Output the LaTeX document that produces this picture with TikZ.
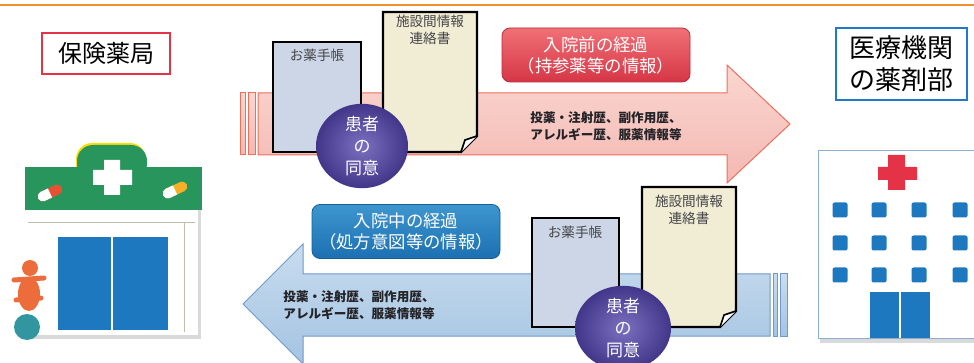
\documentclass[tikz,border=0pt]{standalone}
\usepackage{fontspec}
\setmainfont{Noto Sans CJK JP}
\usetikzlibrary{shapes.geometric,shadows}
\definecolor{rule}{RGB}{240,145,45}
\definecolor{rose}{RGB}{226,52,68}
\definecolor{sky}{RGB}{32,122,200}
\definecolor{pinkfill}{RGB}{244,184,178}
\definecolor{pinklight}{RGB}{250,214,208}
\definecolor{pinkedge}{RGB}{236,112,92}
\definecolor{bluefill}{RGB}{164,196,226}
\definecolor{bluelight}{RGB}{200,220,238}
\definecolor{blueedge}{RGB}{112,152,200}
\definecolor{redtop}{RGB}{240,112,118}
\definecolor{redbot}{RGB}{214,54,70}
\definecolor{bluetop}{RGB}{62,150,206}
\definecolor{bluebot}{RGB}{28,112,178}
\definecolor{plum}{RGB}{66,54,138}
\definecolor{plumlight}{RGB}{124,112,192}
\definecolor{notebook}{RGB}{204,214,230}
\definecolor{paper}{RGB}{241,236,212}
\definecolor{signgreen}{RGB}{40,150,92}
\definecolor{doorblue}{RGB}{30,120,192}
\definecolor{pillred}{RGB}{232,80,50}
\definecolor{pillamber}{RGB}{245,175,40}
\definecolor{mascot}{RGB}{236,108,60}
\definecolor{ball}{RGB}{50,150,160}
\definecolor{crossred}{RGB}{228,50,70}
\definecolor{ink}{RGB}{35,35,40}
\tikzset{
  sign/.style={draw=#1,line width=1.3pt,fill=white,align=center,inner sep=0pt},
  tab/.style={rounded corners=4pt,draw=#1!85!black,thin,text=white,align=center,
    minimum width=94pt,minimum height=27pt,inner sep=0pt,
    font=\fontsize{8.7}{10.5}\selectfont},
  note/.style={font=\fontsize{6.3}{8.5}\selectfont\bfseries,text=ink,align=left,anchor=west,inner sep=0pt},
  doctext/.style={font=\fontsize{6.8}{8.2}\selectfont,text=ink!85,align=center,inner sep=0pt},
  doc/.style={draw=black,line width=1.1pt,fill=#1},
  consent/.style={ellipse,inner color=plumlight,outer color=plum,text=white,align=center,
    minimum width=46pt,minimum height=35pt,inner sep=0pt,
    font=\fontsize{8.5}{11}\selectfont},
  % pictograms
  pics/capsule/.style={code={
    \fill[#1,rounded corners=2.4pt] (-13,-5) rectangle (13,5);
    \begin{scope}
      \clip (-14,-7) rectangle (0,7);
      \fill[white,rounded corners=2.4pt] (-13,-5) rectangle (13,5);
    \end{scope}
  }},
  pics/capsule/.default=pillred,
  pics/drugstore/.style={code={
    \fill[white,drop shadow={opacity=0.3,shadow xshift=1.5pt,shadow yshift=-2pt}] (-87,-35) rectangle (86,95);
    \draw[paper!80!black,thin] (-84,-18) -- (83,-18) (72,-18) -- (72,92);
    \fill[yellow!80!orange,rounded corners=8pt] (-36,-97) rectangle (34,-60);
    \fill[signgreen] (-87,-73) rectangle (90,-30);
    \fill[signgreen,rounded corners=8pt] (-35,-95) rectangle (35,-60);
    \fill[white] (-8,-80) rectangle (8,-45) (-19,-70) rectangle (20,-55);
    \pic[rotate=25] at (-62,-47) {capsule=pillred};
    \pic[rotate=25] at (63,-50) {capsule=pillamber};
    \fill[doorblue] (-54,-3) rectangle (56,90);
    \draw[white,line width=1pt] (0,-3) -- (0,90);
    \fill[mascot] (-82,28) circle (8);
    \fill[mascot] (-83,54) ellipse (11 and 17);
    \draw[mascot,line width=2.5pt,line cap=round] (-98,40) -- (-68,38) (-96,60) -- (-71,58);
    \fill[ball] (-85,87) circle (13);
  }},
  pics/clinic/.style={code={
    \fill[white,draw=blueedge!80,thin,drop shadow={opacity=0.3,shadow xshift=1pt,shadow yshift=-2.5pt}] (-82,-95) rectangle (90,93);
    \fill[crossred] (-12,-90) rectangle (5,-55) (-22,-78) rectangle (17,-65);
    \foreach \x in {-60,-21,19,60}
      \foreach \y in {-35,-2,30}
        \fill[doorblue,rounded corners=1pt] (\x-7.5,\y-7.5) rectangle (\x+7.5,\y+7.5);
    \fill[doorblue] (-30,47) rectangle (30,93);
    \draw[white,line width=1pt] (0,47) -- (0,93);
  }},
}

\begin{document}
\begin{tikzpicture}[x=0.5pt,y=-0.5pt]
  \useasboundingbox (0,0) rectangle (974,363);
  \clip (0,0) rectangle (974,363);
  \draw[rule,line width=1.1pt] (0,5) -- (974,5);

  % the two places
  \node[sign=rose,minimum width=64pt,minimum height=20.5pt,font=\fontsize{12}{14}\selectfont] (pharmacy) at (106,53.5) {保険薬局};
  \node[sign=sky,minimum width=65.5pt,minimum height=36pt,font=\fontsize{13}{16}\selectfont] (hospital) at (901.5,64) {医療機関\\の薬剤部};
  \pic at (112,240) {drugstore};
  \pic at (900,245) {clinic};

  % big arrows
  \shade[top color=pinklight,bottom color=pinkfill,draw=pinkedge,line width=0.5pt]
    (258,93) -- (727,93) -- (727,65) -- (790,124) -- (727,183) -- (727,155) -- (258,155) -- cycle;
  \foreach \a/\b in {240/245,248/255}
    \shade[top color=pinklight,bottom color=pinkfill,draw=pinkedge,line width=0.5pt] (\a,93) rectangle (\b,155);
  \shade[top color=bluelight,bottom color=bluefill,draw=blueedge,line width=0.5pt]
    (770,274) -- (303,274) -- (303,244) -- (243,304) -- (303,364) -- (303,336) -- (770,336) -- cycle;
  \foreach \a/\b in {773/777,780/787}
    \shade[top color=bluelight,bottom color=bluefill,draw=blueedge,line width=0.5pt] (\a,274) rectangle (\b,336);

  \node[tab=redbot,top color=redtop,bottom color=redbot] (before) at (596,55) {入院前の経過\\（持参薬等の情報）};
  \node[tab=bluebot,top color=bluetop,bottom color=bluebot] (during) at (406,231.5) {入院中の経過\\（処方意図等の情報）};
  \node[note] (sentin) at (530,126) {投薬・注射歴、副作用歴、\\アレルギー歴、服薬情報等};
  \node[note] (sentout) at (283,305) {投薬・注射歴、副作用歴、\\アレルギー歴、服薬情報等};

  % documents carried along
  \draw[doc=notebook] (273,42) rectangle (361,152);
  \node[doctext] (book1) at (317,55) {お薬手帳};
  \draw[doc=paper] (383,12) -- (477,12) -- (477,136) -- (461,152) -- (383,152) -- cycle;
  \draw[black,line width=0.8pt,fill=white] (477,136) -- (465,140) -- (461,152);
  \node[doctext] (form1) at (430,30) {施設間情報\\連絡書};

  \draw[doc=notebook] (532,218) rectangle (619,327);
  \node[doctext] (book2) at (575,232) {お薬手帳};
  \draw[doc=paper] (642,187) -- (736,187) -- (736,311) -- (720,327) -- (642,327) -- cycle;
  \draw[black,line width=0.8pt,fill=white] (736,311) -- (724,315) -- (720,327);
  \node[doctext] (form2) at (689,210) {施設間情報\\連絡書};

  \node[consent] (agree1) at (362,146) {患者\\の\\同意};
  \node[consent,minimum width=48pt,minimum height=32pt] (agree2) at (623,328) {患者\\の\\同意};
\end{tikzpicture}
\end{document}
